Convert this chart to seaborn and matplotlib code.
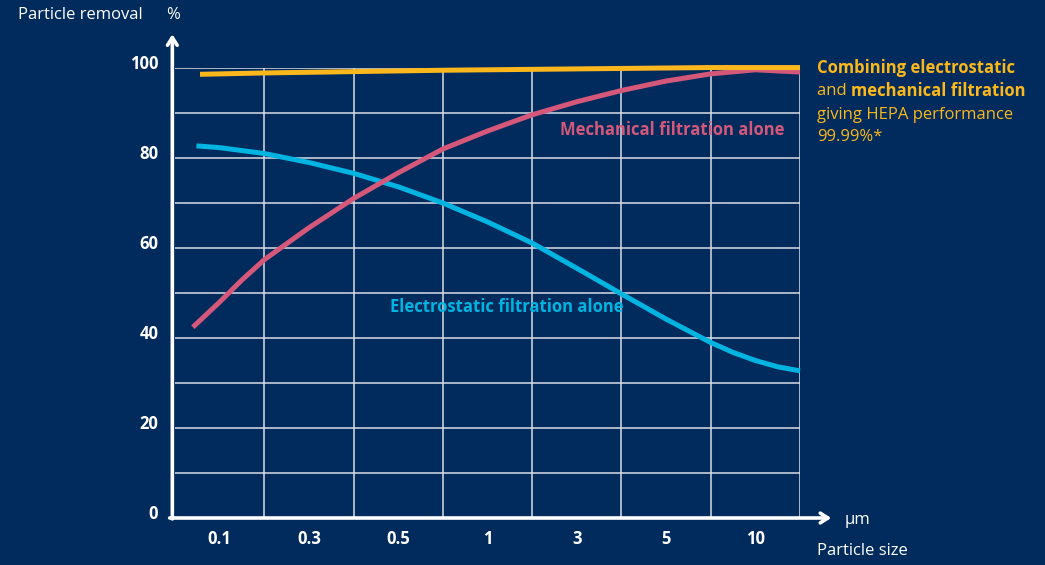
import seaborn as sns
import matplotlib.pyplot as plt
import matplotlib.transforms as mtransforms
import pandas as pd

# Размеры частиц (подписи колонок) и значения кривых.
size_labels = ['0.1', '0.3', '0.5', '1', '3', '5', '10']

combined_x = [0.28, 1.0, 2.0, 3.0, 4.0, 5.0, 6.0, 7.0]
combined_y = [98.6, 98.9, 99.2, 99.5, 99.7, 99.9, 100.1, 100.1]

mech_x = [0.2, 0.5, 0.75, 1.0, 1.5, 2.0, 2.5, 3.0, 3.5, 4.0, 4.5, 5.0, 5.5, 6.0, 6.5, 7.0]
mech_y = [42.4, 48.0, 52.9, 57.4, 64.5, 71.0, 76.7, 82.0, 86.0, 89.6, 92.5, 95.0, 97.1, 98.7, 99.6, 99.1]

elec_x = [0.24, 0.5, 1.0, 1.5, 2.0, 2.5, 3.0, 3.5, 4.0, 4.5, 5.0, 5.5, 6.0, 6.25, 6.5, 6.75, 7.0]
elec_y = [82.7, 82.3, 81.0, 79.0, 76.6, 73.6, 70.0, 65.8, 61.1, 55.5, 49.8, 44.2, 39.0, 36.8, 35.0, 33.6, 32.7]

bg = '#002b5c'
c_elec = '#00b4e1'
c_mech = '#d5587b'
c_comb = '#fbb71c'
grid_c = '#d9dde4'

df = pd.concat([
    pd.DataFrame({'x': elec_x, 'y': elec_y, 'series': 'elec'}),
    pd.DataFrame({'x': mech_x, 'y': mech_y, 'series': 'mech'}),
    pd.DataFrame({'x': combined_x, 'y': combined_y, 'series': 'comb'}),
])

sns.set_style('white')
plt.rcParams['font.family'] = ['Open Sans', 'DejaVu Sans']

fig = plt.figure(figsize=(10.45, 5.65), dpi=100, facecolor=bg)
ax = fig.add_axes([175 / 1045, 47 / 565, 625 / 1045, 450 / 565])
ax.set_facecolor(bg)

sns.lineplot(data=df, x='x', y='y', hue='series', sort=False,
             palette={'elec': c_elec, 'mech': c_mech, 'comb': c_comb},
             linewidth=3.6, legend=False, ax=ax, clip_on=False,
             solid_capstyle='butt', solid_joinstyle='round')

ax.set_xlim(0, 7)
ax.set_ylim(0, 100)

# сетка
for v in range(10, 101, 10):
    ax.axhline(v, color=grid_c, lw=1.1, zorder=0)
for v in range(1, 8):
    ax.axvline(v, color=grid_c, lw=1.1, zorder=0)

for s in ax.spines.values():
    s.set_visible(False)

fs = 12
ax.set_xticks([i + 0.5 for i in range(7)])
ax.set_xticklabels(size_labels)
ax.set_yticks([0, 20, 40, 60, 80, 100])
ax.set_yticklabels(['0', '20', '40', '60', '80', '100'])
ax.tick_params(length=0, colors='white', labelsize=fs)
ax.tick_params(axis='y', pad=12)
ax.tick_params(axis='x', pad=9)
up = mtransforms.ScaledTranslation(0, 6 / 100, fig.dpi_scale_trans)
for lbl in ax.get_yticklabels():
    lbl.set_fontweight('bold')
    lbl.set_transform(lbl.get_transform() + up)
for lbl in ax.get_xticklabels():
    lbl.set_fontweight('bold')
ax.set_xlabel('')
ax.set_ylabel('')

# оси со стрелками
arrow = dict(arrowstyle='->,head_length=0.55,head_width=0.35', color='white', lw=2.6,
             shrinkA=0, shrinkB=0)
ax.annotate('', xy=(-0.03, 107.5), xytext=(-0.03, -0.2), arrowprops=arrow, annotation_clip=False)
ax.annotate('', xy=(7.35, 0), xytext=(-0.06, 0), arrowprops=arrow, annotation_clip=False)

# подписи кривых
ax.text(5.57, 86.2, 'Mechanical filtration alone', color=c_mech, fontsize=fs,
        fontweight='bold', ha='center', va='center')
ax.text(3.72, 47.0, 'Electrostatic filtration alone', color=c_elec, fontsize=fs,
        fontweight='bold', ha='center', va='center')

# подписи осей
fig.text(18 / 1045, 1 - 15 / 565, 'Particle removal', color='white', fontsize=fs, va='center')
fig.text(166 / 1045, 1 - 15 / 565, '%', color='white', fontsize=fs, va='center')
fig.text(845 / 1045, 1 - 520 / 565, 'μm', color='white', fontsize=fs, va='center')
fig.text(817 / 1045, 1 - 551 / 565, 'Particle size', color='white', fontsize=fs, va='center')

# пояснение справа
x0 = 817 / 1045
fig.text(x0, 1 - 68 / 565, 'Combining electrostatic', color=c_comb, fontsize=fs,
         fontweight='bold', va='center')
t_and = fig.text(x0, 1 - 91 / 565, 'and ', color=c_comb, fontsize=fs, va='center')
ax.annotate('mechanical filtration', xy=(1, 0.5), xycoords=t_and, va='center',
            color=c_comb, fontsize=fs, fontweight='bold', annotation_clip=False)
fig.text(x0, 1 - 115 / 565, 'giving HEPA performance', color=c_comb, fontsize=fs, va='center')
fig.text(x0, 1 - 137 / 565, '99.99%*', color=c_comb, fontsize=fs, va='center')

fig.savefig('out.png', dpi=100, facecolor=bg)
